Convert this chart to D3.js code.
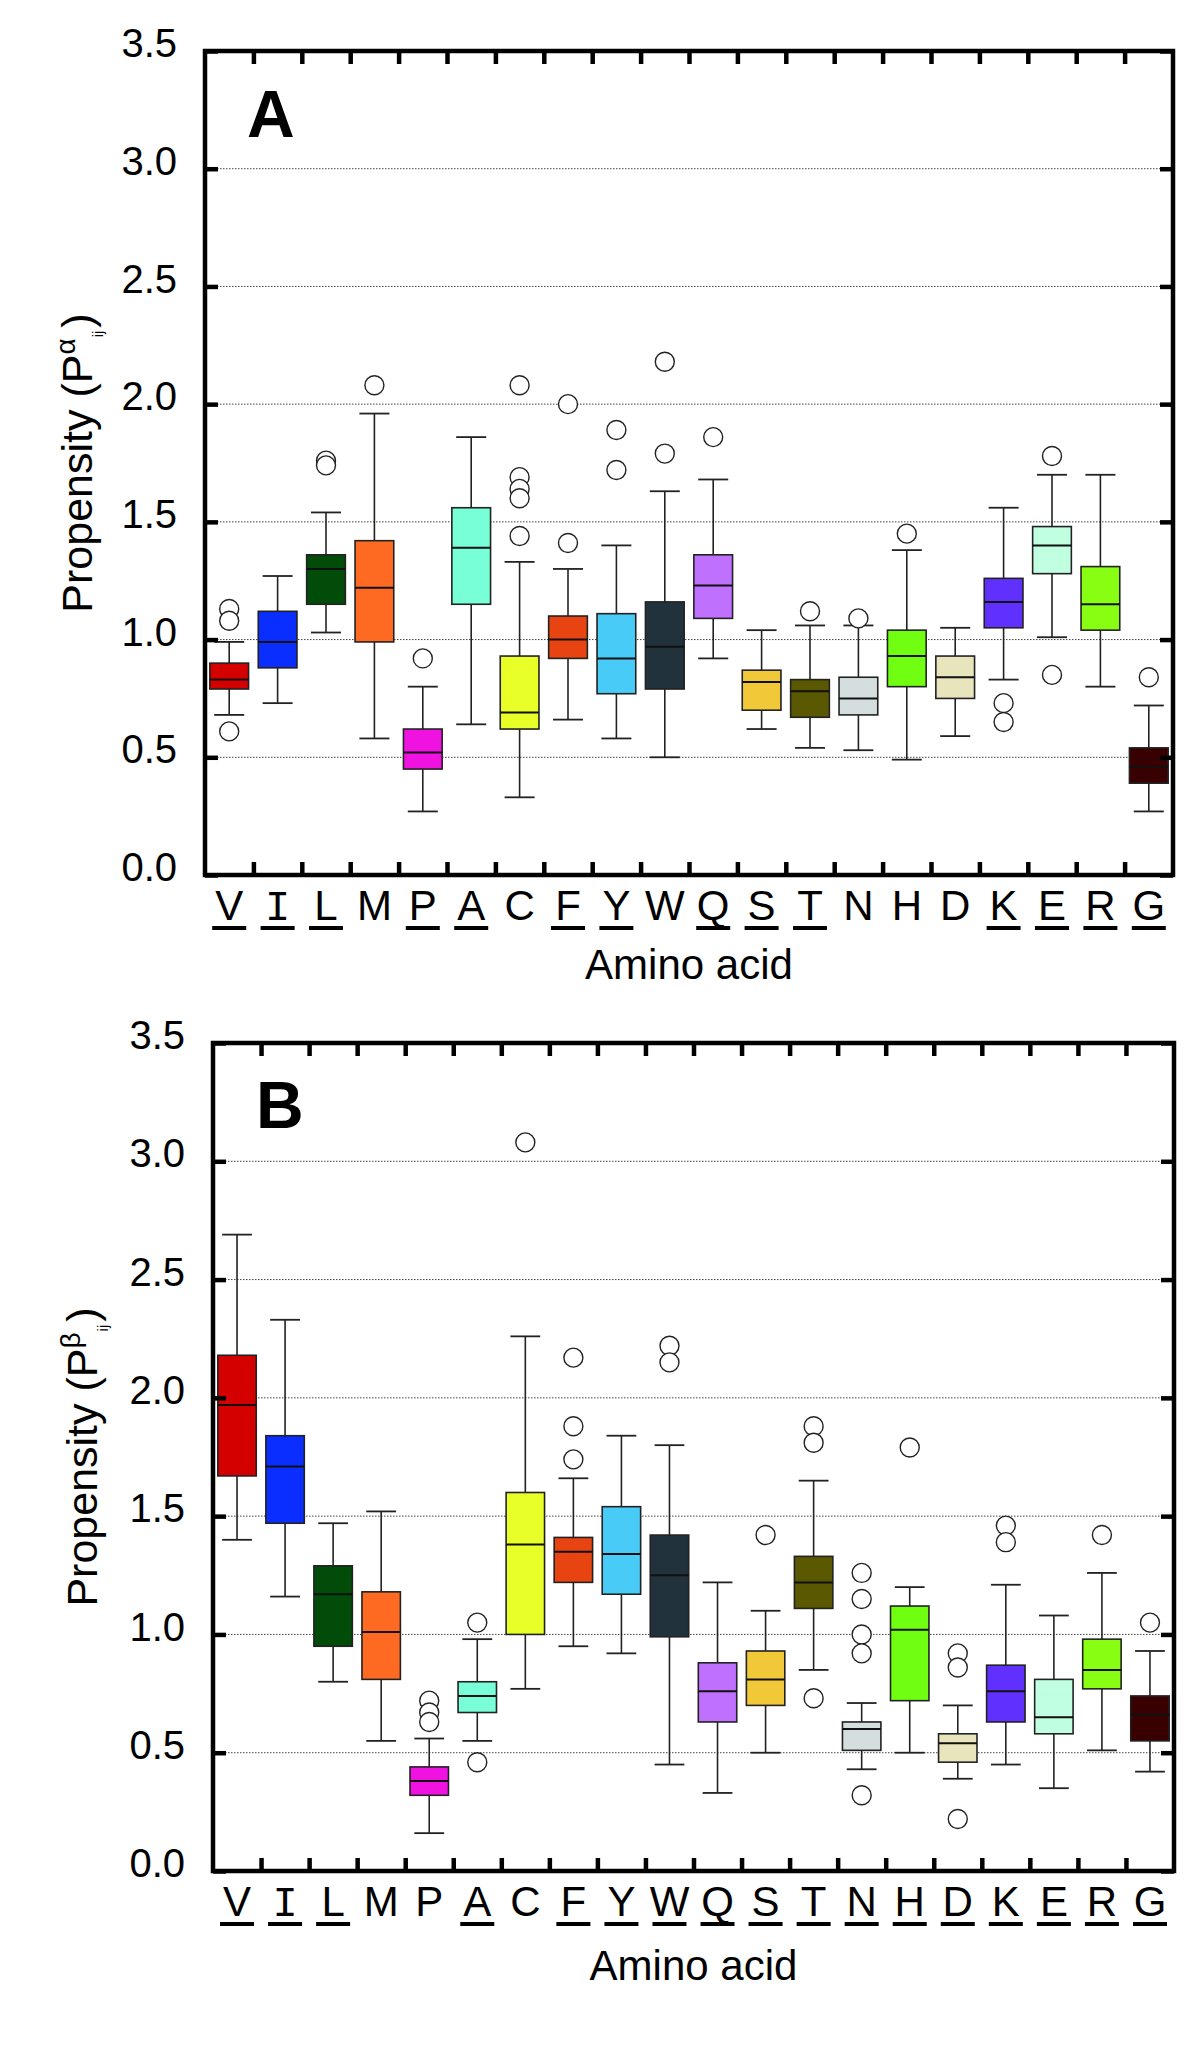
<!DOCTYPE html>
<html>
<head>
<meta charset="utf-8">
<script src="https://cdn.jsdelivr.net/npm/d3@7"></script>
<style>
  body { margin: 0; background: #fff; }
  text { font-family: "Liberation Sans", Arial, sans-serif; fill: #000; }
</style>
</head>
<body>
<div id="chart"></div>
<script>
// categories and colours
const aminoAcids = ["V","I","L","M","P","A","C","F","Y","W","Q","S","T","N","H","D","K","E","R","G"];
const boxColors = ["#d40000","#0a2eff","#004c08","#ff6a22","#f012e0","#78ffd8","#e8ff28","#e84412",
                   "#48cbf6","#22323c","#c070ff","#f0c838","#5a5800","#d4dede","#70ff10","#e8e4bc",
                   "#6030ff","#c0ffe0","#88ff12","#380000"];
const underlineA = [1,1,1,0,1,1,0,1,1,0,1,1,1,0,0,0,1,1,1,1];
const underlineB = [1,1,1,0,0,1,0,1,1,1,1,1,1,1,1,1,1,1,1,1];
const yTicks = [0.0, 0.5, 1.0, 1.5, 2.0, 2.5, 3.0, 3.5];

// panel A: alpha-helix propensity
const alphaLow    = [0.68,0.73,1.03,0.58,0.27,0.64,0.33,0.66,0.58,0.50,0.92,0.62,0.54,0.53,0.49,0.59,0.83,1.01,0.80,0.27];
const alphaQ1     = [0.79,0.88,1.15,0.99,0.45,1.15,0.62,0.92,0.77,0.79,1.09,0.70,0.67,0.68,0.80,0.75,1.05,1.28,1.04,0.39];
const alphaMedian = [0.83,0.99,1.30,1.22,0.52,1.39,0.69,1.00,0.92,0.97,1.23,0.82,0.78,0.75,0.93,0.84,1.16,1.40,1.15,0.46];
const alphaQ3     = [0.90,1.12,1.36,1.42,0.62,1.56,0.93,1.10,1.11,1.16,1.36,0.87,0.83,0.84,1.04,0.93,1.26,1.48,1.31,0.54];
const alphaHigh   = [0.99,1.27,1.54,1.96,0.80,1.86,1.33,1.30,1.40,1.63,1.68,1.04,1.06,1.06,1.38,1.05,1.56,1.70,1.70,0.72];
const alphaOutliers = [[1.13,1.08,0.61],[],[1.76,1.74],[2.08],[0.92],[],[2.08,1.69,1.64,1.60,1.44],[2.00,1.41],
                       [1.89,1.72],[2.18,1.79],[1.86],[],[1.12],[1.09],[1.45],[],[0.73,0.65],[1.78,0.85],[],[0.84]];

// panel B: beta-strand propensity
const betaLow    = [1.40,1.16,0.80,0.55,0.16,0.55,0.77,0.95,0.92,0.45,0.33,0.50,0.85,0.43,0.50,0.39,0.45,0.35,0.51,0.42];
const betaQ1     = [1.67,1.47,0.95,0.81,0.32,0.67,1.00,1.22,1.17,0.99,0.63,0.70,1.11,0.51,0.72,0.46,0.63,0.58,0.77,0.55];
const betaMedian = [1.97,1.71,1.17,1.01,0.38,0.74,1.38,1.35,1.34,1.25,0.76,0.81,1.22,0.60,1.02,0.54,0.76,0.65,0.85,0.66];
const betaQ3     = [2.18,1.84,1.29,1.18,0.44,0.80,1.60,1.41,1.54,1.42,0.88,0.93,1.33,0.63,1.12,0.58,0.87,0.81,0.98,0.74];
const betaHigh   = [2.69,2.33,1.47,1.52,0.56,0.98,2.26,1.66,1.84,1.80,1.22,1.10,1.65,0.71,1.20,0.70,1.21,1.08,1.26,0.93];
const betaOutliers = [[],[],[],[],[0.72,0.67,0.63],[1.05,0.46],[3.08],[2.17,1.88,1.74],[],[2.22,2.15],[],[1.42],
                      [1.88,1.81,0.73],[1.26,1.15,1.00,0.92,0.32],[1.79],[0.92,0.86,0.22],[1.46,1.39],[],[1.42],[1.05]];

const panels = [
  {letter: "A", greek: "\u03b1", left: 205, top: 51, right: 1173, bottom: 875, titleGap: 104, yTitleX: 92, letterX: 247, letterY: 137,
   low: alphaLow, q1: alphaQ1, median: alphaMedian, q3: alphaQ3, high: alphaHigh, outliers: alphaOutliers, underline: underlineA},
  {letter: "B", greek: "\u03b2", left: 213, top: 1043, right: 1174, bottom: 1871, titleGap: 109, yTitleX: 97, letterX: 256, letterY: 1128,
   low: betaLow, q1: betaQ1, median: betaMedian, q3: betaQ3, high: betaHigh, outliers: betaOutliers, underline: underlineB}
];

const svg = d3.select("#chart").append("svg")
  .attr("width", 1200)
  .attr("height", 2046)
  .style("background", "#fff");

function drawPanel(cfg) {
  const x = d3.scaleBand().domain(aminoAcids).range([cfg.left, cfg.right]);
  const xEdge = d3.scaleLinear().domain([0, aminoAcids.length]).range([cfg.left, cfg.right]);
  const y = d3.scaleLinear().domain([0, 3.5]).range([cfg.bottom, cfg.top]);
  const g = svg.append("g");

  // dotted grid lines
  g.selectAll(".grid")
    .data(yTicks.filter(v => v > 0 && v < 3.5))
    .join("line")
    .attr("class", "grid")
    .attr("x1", cfg.left).attr("x2", cfg.right)
    .attr("y1", d => y(d)).attr("y2", d => y(d))
    .attr("stroke", "#444")
    .attr("stroke-width", 1)
    .attr("stroke-dasharray", "1.5,1.5");

  const rows = aminoAcids.map((aa, i) => ({
    aa, color: boxColors[i],
    low: cfg.low[i], q1: cfg.q1[i], median: cfg.median[i], q3: cfg.q3[i], high: cfg.high[i],
    outliers: cfg.outliers[i]
  }));
  const bw = x.bandwidth() * 0.8;
  const cw = x.bandwidth() * 0.62;

  const item = g.selectAll(".boxG")
    .data(rows)
    .join("g")
    .attr("class", "boxG")
    .attr("transform", d => `translate(${x(d.aa) + x.bandwidth() / 2},0)`);

  // whiskers
  item.append("line")
    .attr("x1", 0).attr("x2", 0)
    .attr("y1", d => y(d.low)).attr("y2", d => y(d.high))
    .attr("stroke", "#222").attr("stroke-width", 1.6);
  item.append("line")
    .attr("x1", -cw / 2).attr("x2", cw / 2)
    .attr("y1", d => y(d.high)).attr("y2", d => y(d.high))
    .attr("stroke", "#222").attr("stroke-width", 1.8);
  item.append("line")
    .attr("x1", -cw / 2).attr("x2", cw / 2)
    .attr("y1", d => y(d.low)).attr("y2", d => y(d.low))
    .attr("stroke", "#222").attr("stroke-width", 1.8);

  // boxes and medians
  item.append("rect")
    .attr("x", -bw / 2)
    .attr("width", bw)
    .attr("y", d => y(d.q3))
    .attr("height", d => y(d.q1) - y(d.q3))
    .attr("fill", d => d.color)
    .attr("stroke", "#222")
    .attr("stroke-width", 1.6);
  item.append("line")
    .attr("x1", -bw / 2).attr("x2", bw / 2)
    .attr("y1", d => y(d.median)).attr("y2", d => y(d.median))
    .attr("stroke", "#111").attr("stroke-width", 2);

  // outliers
  item.selectAll(".outlier")
    .data(d => d.outliers)
    .join("circle")
    .attr("class", "outlier")
    .attr("cx", 0)
    .attr("cy", d => y(d))
    .attr("r", 9.5)
    .attr("fill", "#fff")
    .attr("stroke", "#222")
    .attr("stroke-width", 1.4);

  // frame
  g.append("rect")
    .attr("x", cfg.left).attr("y", cfg.top)
    .attr("width", cfg.right - cfg.left)
    .attr("height", cfg.bottom - cfg.top)
    .attr("fill", "none")
    .attr("stroke", "#000")
    .attr("stroke-width", 4.5);

  // y axis: inner ticks + labels
  const yAxisG = g.append("g")
    .attr("transform", `translate(${cfg.left},0)`)
    .call(d3.axisLeft(y).tickValues(yTicks).tickSize(-13).tickPadding(28).tickFormat(d3.format(".1f")));
  const yAxisR = g.append("g")
    .attr("transform", `translate(${cfg.right},0)`)
    .call(d3.axisRight(y).tickValues(yTicks).tickSize(-13).tickFormat(""));
  [yAxisG, yAxisR].forEach(a => {
    a.select(".domain").remove();
    a.selectAll(".tick line").attr("stroke", "#000").attr("stroke-width", 4.5);
  });
  yAxisG.selectAll(".tick text")
    .attr("dy", "0.14em")
    .style("font-size", "40px")
    .style("font-family", "'Liberation Sans', Arial, sans-serif")
    .attr("fill", "#000");

  // x boundary ticks, top and bottom
  const edgeTicks = d3.range(1, aminoAcids.length);
  const xTop = g.append("g")
    .attr("transform", `translate(0,${cfg.top})`)
    .call(d3.axisTop(xEdge).tickValues(edgeTicks).tickSize(-13).tickFormat(""));
  const xBot = g.append("g")
    .attr("transform", `translate(0,${cfg.bottom})`)
    .call(d3.axisBottom(xEdge).tickValues(edgeTicks).tickSize(-13).tickFormat(""));
  [xTop, xBot].forEach(a => {
    a.select(".domain").remove();
    a.selectAll(".tick line").attr("stroke", "#000").attr("stroke-width", 4.5);
  });

  // amino acid labels, some underlined
  const xLab = g.append("g")
    .attr("transform", `translate(0,${cfg.bottom})`)
    .call(d3.axisBottom(x).tickSize(0).tickPadding(15));
  xLab.select(".domain").remove();
  xLab.selectAll(".tick text")
    .style("font-size", "42px")
    .style("font-family", d => d === "I" ? "'Liberation Mono', monospace" : "'Liberation Sans', Arial, sans-serif")
    .attr("fill", "#000");
  xLab.selectAll(".tick")
    .filter((d, i) => cfg.underline[i])
    .append("line")
    .attr("x1", -17).attr("x2", 17)
    .attr("y1", 53).attr("y2", 53)
    .attr("stroke", "#000")
    .attr("stroke-width", 4);

  // axis titles
  g.append("text")
    .attr("x", (cfg.left + cfg.right) / 2)
    .attr("y", cfg.bottom + cfg.titleGap)
    .attr("text-anchor", "middle")
    .style("font-size", "42px")
    .text("Amino acid");

  const yt = g.append("text")
    .attr("text-anchor", "middle")
    .attr("transform", `translate(${cfg.yTitleX},${(cfg.top + cfg.bottom) / 2}) rotate(-90)`)
    .style("font-size", "43px");
  yt.append("tspan").text("Propensity (P");
  yt.append("tspan").attr("dy", -17).style("font-size", "28px").text(cfg.greek);
  yt.append("tspan").attr("dy", 28).attr("dx", 1).style("font-size", "15px").text("ij");
  yt.append("tspan").attr("dy", -11).attr("dx", 3).text(")");

  // panel letter
  g.append("text")
    .attr("x", cfg.letterX)
    .attr("y", cfg.letterY)
    .style("font-size", "66px")
    .style("font-weight", "bold")
    .text(cfg.letter);
}

panels.forEach(drawPanel);
</script>
</body>
</html>
